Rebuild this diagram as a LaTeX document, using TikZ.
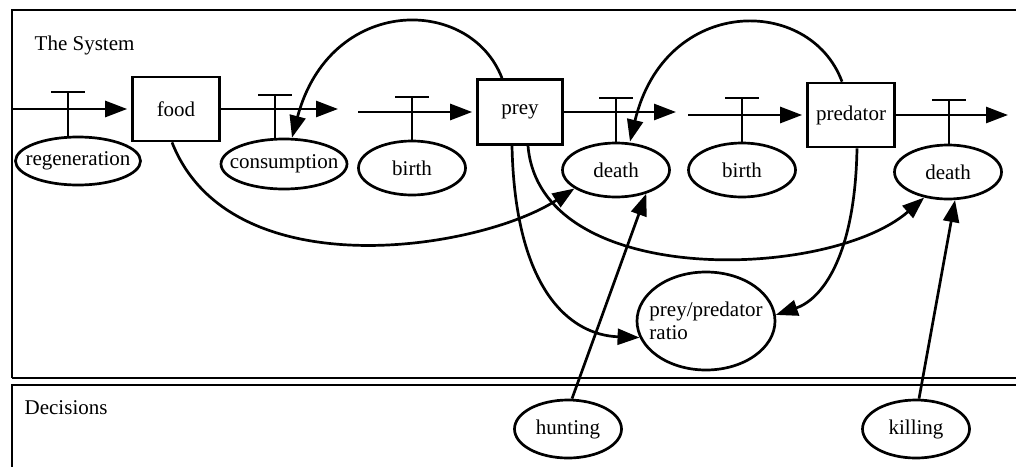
\documentclass[tikz,border=0pt]{standalone}
\usepackage{fontspec}
\setmainfont{Liberation Serif}
\usetikzlibrary{arrows.meta,positioning,shapes.geometric}

\begin{document}
\begin{tikzpicture}[x=1pt, y=-1pt, line width=2.7pt, >={Triangle[length=22pt,width=16pt]},
        font=\fontsize{21}{23}\selectfont,
        stock/.style={draw, rectangle, inner sep=0pt, minimum width=87pt, minimum height=64pt},
        aux/.style={draw, ellipse, inner xsep=-10pt, inner ysep=0pt, minimum width=107pt, minimum height=54pt}]
        \useasboundingbox (0,0) rectangle (1016,466);
        \clip (0,0) rectangle (1016,466);

        \draw (12,378) |- (1030,10);
        \draw (12,378) -- (1030,378);
        \draw (1030,385) -| (12,470);
        \node[anchor=west] (systemlabel) at (30,45) {The System};
        \node[anchor=west] (decisionlabel) at (20,408) {Decisions};

        \node[stock] (food) at (176,109) {food};
        \node[stock, minimum width=85pt, minimum height=65pt] (prey) at (520,112) {prey};
        \node[stock] (predator) at (851,115) {predator};

        \node[aux, minimum width=125pt, minimum height=48pt] (regen) at (78,161) {regeneration};
        \node[aux, minimum width=126pt, minimum height=50pt] (cons) at (284,164) {consumption};
        \node[aux] (preybirth) at (412,168) {birth};
        \node[aux] (preydeath) at (616,170) {death};
        \node[aux] (predbirth) at (742,170) {birth};
        \node[aux] (preddeath) at (948,172) {death};
        \node[aux, minimum width=138pt, minimum height=98pt, align=left] (ratio) at (706,321) {prey/predator\\ratio};
        \node[aux, minimum height=58pt] (hunting) at (568,429) {hunting};
        \node[aux, minimum height=58pt] (killing) at (916,429) {killing};

        \coordinate (src1) at (12,109);
        \coordinate (sink1) at (338,109);
        \coordinate (src2) at (358,112);
        \coordinate (sink2) at (676,112);
        \coordinate (src3) at (688,115);
        \coordinate (sink3) at (1008,115);
        \draw[->, shorten >=4pt] (src1) -- (food);
        \draw[->] (food) -- (sink1);
        \draw[->, shorten >=4pt] (src2) -- (prey);
        \draw[->] (prey) -- (sink2);
        \draw[->, shorten >=4pt] (src3) -- (predator);
        \draw[->] (predator) -- (sink3);

        \coordinate (vregen) at (68,92);
        \coordinate (vcons) at (275,95);
        \coordinate (vpreybirth) at (412,97);
        \coordinate (vpreydeath) at (616,98);
        \coordinate (vpredbirth) at (742,98);
        \coordinate (vpreddeath) at (949,100);
        \foreach \v/\e in {vregen/regen, vcons/cons, vpreybirth/preybirth, vpreydeath/preydeath, vpredbirth/predbirth, vpreddeath/preddeath} {
            \draw (\v) +(-17,0) -- +(17,0);
            \draw (\v) -- (\v |- \e.north);
        }

        \draw[->] ([xshift=-18pt]prey.north) .. controls (470,-5) and (330,-5) .. ([xshift=8pt]cons.north);
        \draw[->] ([xshift=-9pt]predator.north) .. controls (810,-5) and (665,-5) .. ([xshift=14pt]preydeath.north);
        \draw[->] ([xshift=-4pt]food.south) .. controls (230,290) and (480,250) .. (preydeath.204);
        \draw[->] ([xshift=8pt]prey.south) .. controls (540,290) and (830,280) .. (preddeath.227);
        \draw[->] ([xshift=-8pt]prey.south) .. controls (515,290) and (570,335) .. (ratio.194);
        \draw[->] ([xshift=6pt]predator.south) .. controls (855,260) and (820,300) .. (ratio.5);
        \draw[->] ([xshift=4pt]hunting.north) -- (preydeath.-38);
        \draw[->] ([xshift=3pt]killing.north) -- (preddeath.-76);
    \end{tikzpicture}
\end{document}
